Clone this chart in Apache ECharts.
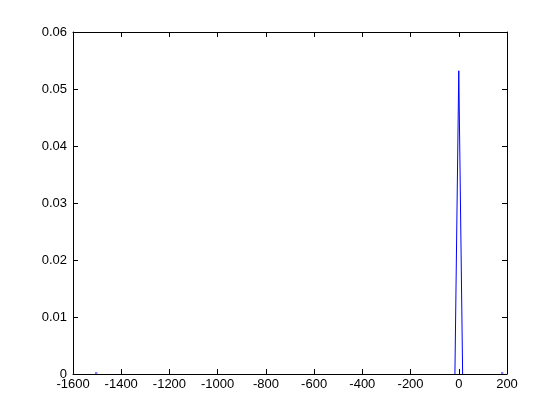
<!DOCTYPE html>
<html>
<head>
<meta charset="utf-8">
<script src="https://cdn.jsdelivr.net/npm/echarts@6/dist/echarts.min.js"></script>
<style>html,body{margin:0;padding:0;background:#fff}#c{width:560px;height:420px}</style>
</head>
<body>
<div id="c"></div>
<script>
// Data
const peakX = [-16, 0, 16];
const peakY = [0, 0.0532, 0];
const leftTailX = [-1509, -1499];
const leftTailY = [0.000175, 0.000175];
const rightTailX = [175, 185];
const rightTailY = [0.000175, 0.000175];
const xTicks = [-1600, -1400, -1200, -1000, -800, -600, -400, -200, 0, 200];
const yTickLabels = ['0', '0.01', '0.02', '0.03', '0.04', '0.05', '0.06'];

function pairs(xs, ys) { return xs.map((x, i) => [x, ys[i]]); }

const font = { color: '#000', fontSize: 13, fontFamily: 'Liberation Sans, Arial, sans-serif' };
const axisLine = { show: true, onZero: false, lineStyle: { color: '#000', width: 1 } };
const tick = { show: true, inside: true, length: 5, lineStyle: { color: '#000', width: 1 } };

const chart = echarts.init(document.getElementById('c'), null, { renderer: 'canvas' });
chart.setOption({
  animation: false,
  backgroundColor: '#fff',
  grid: { left: 73, right: 53, top: 32, bottom: 46, containLabel: false },
  xAxis: [
    { type: 'value', position: 'bottom', min: xTicks[0], max: xTicks[xTicks.length - 1], interval: 200,
      axisLine, axisTick: tick, splitLine: { show: false },
      axisLabel: Object.assign({ margin: 4, formatter: v => String(v) }, font) },
    { type: 'value', position: 'top', min: xTicks[0], max: xTicks[xTicks.length - 1], interval: 200,
      axisLine, axisTick: tick, splitLine: { show: false }, axisLabel: { show: false } }
  ],
  yAxis: [
    { type: 'value', position: 'left', min: 0, max: 0.06, interval: 0.01,
      axisLine, axisTick: tick, splitLine: { show: false },
      axisLabel: Object.assign({ margin: 6, formatter: v => yTickLabels[Math.round(v / 0.01)] }, font) },
    { type: 'value', position: 'right', min: 0, max: 0.06, interval: 0.01,
      axisLine, axisTick: tick, splitLine: { show: false }, axisLabel: { show: false } }
  ],
  series: [
    { type: 'line', data: pairs(peakX, peakY), showSymbol: false, lineStyle: { color: '#0000ff', width: 1 }, z: 3 },
    { type: 'line', data: pairs(leftTailX, leftTailY), showSymbol: false, lineStyle: { color: '#0000ff', width: 1 }, z: 3 },
    { type: 'line', data: pairs(rightTailX, rightTailY), showSymbol: false, lineStyle: { color: '#0000ff', width: 1 }, z: 3 }
  ]
});
</script>
</body>
</html>
